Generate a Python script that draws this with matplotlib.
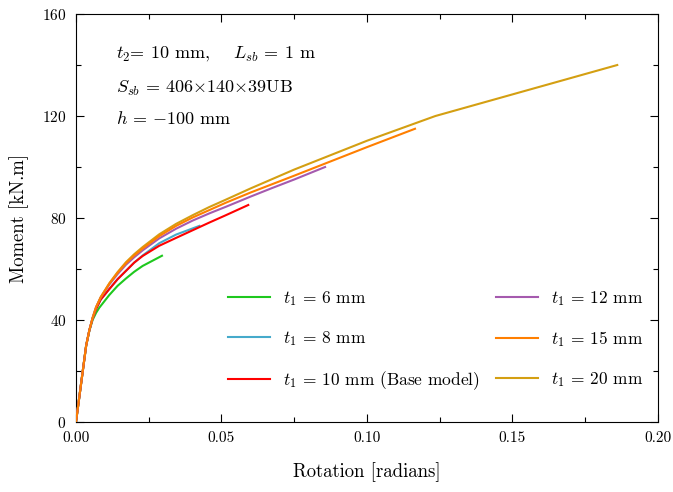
import numpy as np
import matplotlib
matplotlib.use("Agg")
from matplotlib import pyplot as plt
from matplotlib.ticker import MultipleLocator, FormatStrFormatter

plt.rcParams.update({
    "font.family": "serif",
    "font.serif": ["cmr10", "DejaVu Serif"],
    "mathtext.fontset": "cm",
    "axes.unicode_minus": False,
    "axes.formatter.use_mathtext": True,
})

# moment-rotation curves, one per flange thickness t1
rot_6 = [0, 0.0035, 0.0046, 0.0057, 0.0069, 0.008, 0.01145, 0.0143, 0.0172, 0.02, 0.0229, 0.02955]
mom_6 = [0, 30, 35.8, 40, 42.8, 44.8, 49.8, 53.4, 56.3, 58.9, 61.2, 65.2]

rot_8 = [0, 0.0035, 0.0046, 0.0057, 0.0069, 0.0085, 0.0115, 0.0143, 0.0172, 0.02, 0.0229,
         0.0286, 0.0344, 0.0424]
mom_8 = [0, 30, 36, 40.5, 44.3, 48, 52.2, 56, 59.3, 62.5, 65.3, 70.1, 73.5, 76.9]

rot_10 = [0, 0.0035, 0.0046, 0.0057, 0.0069, 0.0085, 0.0115, 0.0143, 0.0172, 0.02, 0.0229,
          0.0286, 0.0344, 0.0401, 0.0458, 0.0515, 0.0592]
mom_10 = [0, 30, 36, 40.5, 44.3, 48, 52.2, 56, 59.3, 62.5, 65.1, 69.1, 72.2, 75.2, 78.2, 81.1, 85.1]

rot_12 = [0, 0.0035, 0.0046, 0.0057, 0.0069, 0.0085, 0.0115, 0.0143, 0.0172, 0.02, 0.0229,
          0.0286, 0.0344, 0.0401, 0.0458, 0.0515, 0.06, 0.0675, 0.075, 0.0856]
mom_12 = [0, 30, 36, 40.8, 45, 48.8, 54, 58, 61.7, 64.6, 67.3, 72, 75.8, 79, 81.8, 84.4,
          88.4, 91.8, 95.1, 100]

rot_15 = [0, 0.0035, 0.0046, 0.0057, 0.0069, 0.0085, 0.0115, 0.0143, 0.0172, 0.02, 0.0229,
          0.0286, 0.0344, 0.0401, 0.0458, 0.0515, 0.06, 0.0675, 0.075, 0.1, 0.1165]
mom_15 = [0, 30, 36, 40.8, 45, 48.9, 54.3, 58.5, 62.3, 65.3, 68, 72.9, 76.9, 80.2, 83.1, 86,
          90, 93.3, 96.6, 107.8, 115]

rot_20 = [0, 0.0035, 0.0046, 0.0057, 0.0069, 0.0085, 0.0115, 0.0143, 0.0172, 0.02, 0.0229,
          0.0286, 0.0344, 0.0401, 0.0458, 0.0515, 0.06, 0.0675, 0.075, 0.1, 0.1235, 0.186]
mom_20 = [0, 30, 36, 40.8, 45, 49, 54.5, 58.8, 62.7, 65.8, 68.6, 73.6, 77.7, 81.1, 84.3, 87.2,
          91.6, 95.3, 99, 110.3, 120, 140]

labels = [r"$t_{\mathit{1}}$ = 6 mm", r"$t_{\mathit{1}}$ = 8 mm",
          r"$t_{\mathit{1}}$ = 10 mm (Base model)", r"$t_{\mathit{1}}$ = 12 mm",
          r"$t_{\mathit{1}}$ = 15 mm", r"$t_{\mathit{1}}$ = 20 mm"]
colors = ["#1ec81e", "#46aacb", "#ff0000", "#a55aae", "#ff7f00", "#d49f12"]
zorders = [3, 4, 5, 6, 7, 2]
series = [(rot_6, mom_6), (rot_8, mom_8), (rot_10, mom_10),
          (rot_12, mom_12), (rot_15, mom_15), (rot_20, mom_20)]

fig = plt.figure(figsize=(6.73, 4.92), dpi=100)
ax = fig.add_axes([0.1129, 0.1423, 0.8648, 0.8292])

for (r, m), lab, c, z in zip(series, labels, colors, zorders):
    ax.plot(r, m, color=c, lw=1.5, label=lab, zorder=z, solid_joinstyle="round")

ax.set_xlim(0, 0.2); ax.set_ylim(0, 160)
ax.xaxis.set_major_locator(MultipleLocator(0.05))
ax.xaxis.set_minor_locator(MultipleLocator(0.025))
ax.yaxis.set_major_locator(MultipleLocator(40))
ax.yaxis.set_minor_locator(MultipleLocator(20))
ax.xaxis.set_major_formatter(FormatStrFormatter("%.2f"))
ax.tick_params(which="both", direction="in", top=True, right=True, labelsize=11, width=0.8)
ax.tick_params(which="major", length=6, pad=7)
ax.tick_params(which="minor", length=3.5)
for s in ax.spines.values():
    s.set_linewidth(0.8)

ax.set_xlabel("Rotation [radians]", fontsize=13.5, labelpad=12)
ax.set_ylabel("Moment [kN.m]", fontsize=13.5, labelpad=9)

ax.text(0.069, 0.903, r"$t_{\mathit{2}}$= 10 mm,    $L_{sb}$ = 1 m", transform=ax.transAxes,
        fontsize=13, va="center")
ax.text(0.069, 0.818, r"$S_{sb}$ = 406$\times$140$\times$39UB", transform=ax.transAxes,
        fontsize=13, va="center")
ax.text(0.069, 0.745, r"$h$ = $-$100 mm", transform=ax.transAxes,
        fontsize=13, va="center")

ax.legend(loc="upper left", bbox_to_anchor=(0.261, 0.327), ncol=2, frameon=False,
          fontsize=12.5, borderpad=0, borderaxespad=0, labelspacing=1.22,
          handlelength=2.4, handletextpad=0.75, columnspacing=0.95)

fig.savefig("out.png", dpi=100)
